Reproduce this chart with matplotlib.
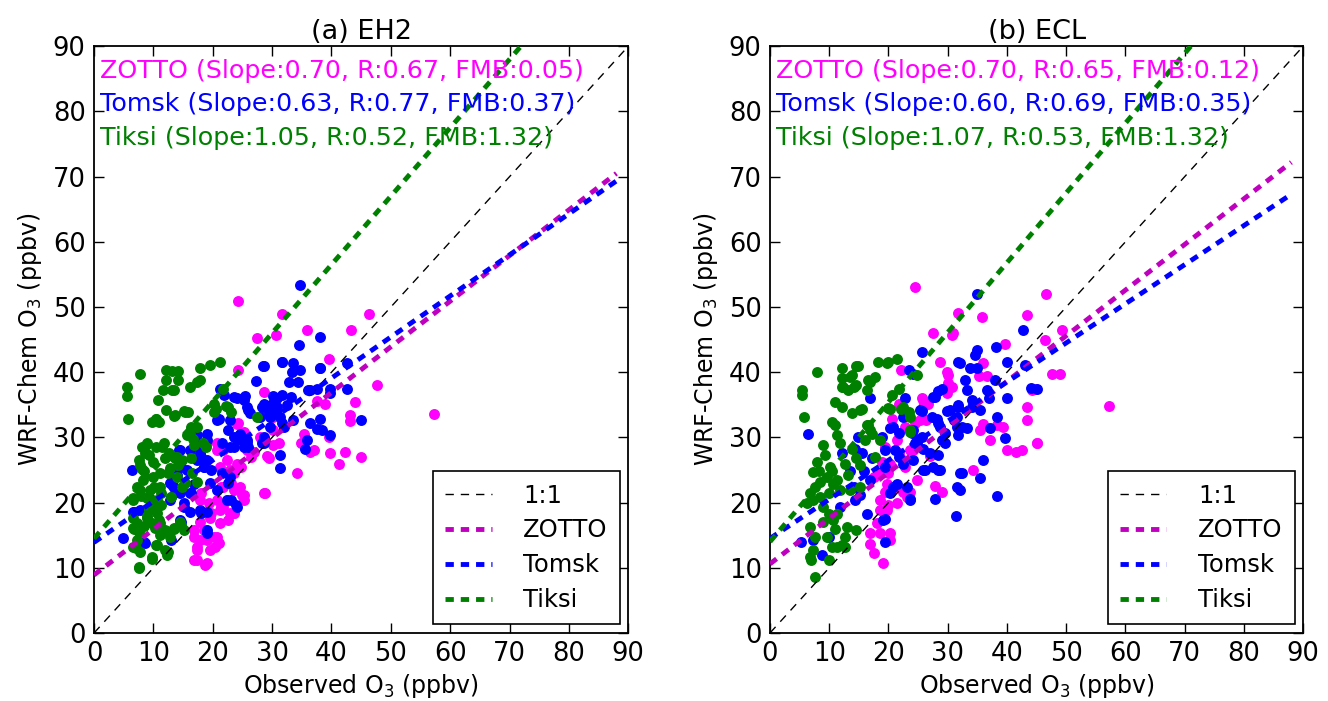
import numpy as np
import matplotlib
matplotlib.use("Agg")
import matplotlib.pyplot as plt

plt.rcParams['font.family'] = ['DejaVu Sans']
plt.rcParams['lines.scale_dashes'] = False

# ---- panel (a) EH2 : observed / modelled O3 (ppbv) ----
eh2_zotto = [
    (24.3, 51.0), (31.6, 48.9), (27.4, 45.2), (30.7, 45.7), (24.3, 40.4), (28.6, 36.9), (24.1, 32.1),
    (21.8, 28.1), (20.7, 29.1), (29.1, 33.7), (30.2, 31.1), (29.4, 26.8), (22.9, 25.0), (21.2, 25.5),
    (19.0, 29.1), (20.7, 28.1), (22.4, 26.5), (24.1, 26.0), (25.7, 28.1), (29.1, 27.1), (30.2, 28.8),
    (28.6, 21.4), (25.2, 21.2), (23.5, 21.9), (21.8, 22.4), (20.7, 20.4), (21.8, 19.4), (22.9, 18.4),
    (21.3, 16.8), (19.6, 17.6), (17.9, 17.1), (16.8, 15.8), (17.9, 14.3), (20.7, 14.8), (19.0, 14.3),
    (17.3, 13.2), (19.6, 12.7), (20.4, 13.2), (16.8, 11.2), (18.7, 10.4), (21.3, 18.9), (19.3, 19.9),
    (17.9, 20.4), (35.8, 46.5), (43.3, 46.5), (46.4, 48.9), (39.6, 42.1), (47.7, 38.0), (44.0, 35.5),
    (37.5, 35.6), (38.9, 35.2), (43.2, 33.5), (43.2, 32.5), (57.2, 33.6), (39.5, 30.1), (35.3, 30.6),
    (35.3, 29.1), (37.0, 28.1), (39.8, 27.6), (42.3, 27.8), (44.9, 27.0), (41.2, 26.0), (34.2, 24.5),
    (28.8, 21.4), (26.9, 27.8), (27.9, 30.1), (24.2, 32.2), (25.3, 30.9), (26.4, 27.0), (24.7, 25.5),
    (25.0, 21.2), (23.6, 18.4), (22.5, 17.3), (21.4, 19.4), (19.7, 18.4), (18.5, 15.8), (20.2, 14.8),
    (16.9, 14.8), (17.4, 12.8), (17.4, 11.2), (19.1, 10.7), (21.1, 13.8), (23.0, 23.0), (21.4, 22.4),
    (18.0, 21.4), (29.4, 34.2), (30.2, 33.2), (31.1, 29.1), (34.8, 29.1), (36.4, 27.8), (23.5, 24.5),
    (24.6, 22.4), (22.4, 20.4), (25.2, 20.4), (23.5, 18.4),
]
eh2_tomsk = [
    (28.4, 40.9), (31.6, 41.5), (27.3, 38.7), (21.2, 37.5), (21.9, 36.5), (24.1, 36.0), (25.5, 36.3),
    (25.7, 34.7), (26.3, 33.7), (28.6, 35.2), (30.2, 36.3), (31.6, 36.5), (30.8, 34.2), (29.7, 33.2),
    (22.9, 32.7), (20.7, 32.7), (24.6, 30.6), (25.7, 29.6), (23.5, 30.1), (25.2, 28.6), (28.6, 29.1),
    (31.3, 27.3), (31.3, 25.3), (17.3, 30.4), (19.0, 30.6), (14.5, 28.1), (6.4, 25.0), (17.9, 27.6),
    (19.0, 26.5), (18.5, 25.4), (4.9, 14.5), (8.6, 13.8), (16.2, 28.1), (17.9, 28.8), (17.3, 26.5),
    (15.6, 25.0), (13.9, 24.2), (12.8, 23.0), (14.5, 21.4), (16.2, 21.4), (15.1, 19.9), (16.2, 18.6),
    (17.9, 18.9), (19.0, 18.6), (19.0, 15.8), (20.7, 21.9), (21.5, 24.5), (22.9, 24.0), (19.6, 23.0),
    (22.4, 20.4), (24.1, 19.4), (22.9, 28.6), (25.7, 29.3), (28.3, 29.1), (12.8, 20.4), (9.7, 20.4),
    (7.8, 18.9), (6.6, 18.6), (14.5, 17.3), (34.7, 53.4), (38.0, 45.4), (34.5, 44.2), (28.6, 41.0),
    (33.6, 41.4), (33.3, 40.1), (34.7, 40.3), (32.8, 38.5), (34.4, 38.5), (38.0, 40.7), (42.6, 41.4),
    (39.8, 37.5), (39.8, 36.8), (42.6, 37.5), (36.1, 37.2), (37.5, 37.5), (30.8, 36.0), (33.1, 36.2),
    (30.8, 34.7), (32.5, 34.9), (29.9, 35.2), (28.3, 34.7), (28.0, 33.2), (29.4, 33.9), (31.4, 33.2),
    (31.7, 32.2), (33.6, 32.7), (29.7, 31.6), (32.0, 31.6), (28.6, 30.1), (36.4, 32.2), (38.1, 32.9),
    (38.4, 31.1), (39.8, 30.4), (37.5, 31.3), (35.9, 29.6), (35.6, 28.3), (44.9, 32.7), (31.7, 41.6),
    (38.1, 40.6), (36.4, 37.3), (21.1, 32.9), (22.5, 31.1), (23.6, 36.2), (25.3, 35.7), (25.9, 34.2),
    (24.7, 29.6), (25.9, 28.6), (23.6, 28.6), (21.6, 29.1), (22.5, 23.0), (23.9, 19.6), (23.0, 20.4),
    (12.9, 24.5), (14.6, 25.5), (14.3, 28.1), (13.5, 22.4), (12.9, 20.9), (15.2, 19.4), (16.3, 21.4),
    (16.9, 22.9), (18.0, 27.0), (18.5, 25.5), (19.1, 29.6), (19.7, 25.0), (18.0, 18.4), (19.1, 15.3),
    (14.6, 17.1), (8.4, 14.0), (12.9, 14.2), (6.7, 18.6),
]
eh2_tiksi = [
    (7.8, 39.7), (5.5, 37.8), (5.5, 36.3), (5.8, 32.9), (12.1, 40.4), (13.1, 40.2), (14.2, 40.2),
    (12.1, 38.8), (14.2, 38.8), (13.1, 37.3), (11.7, 37.3), (16.2, 37.8), (17.9, 38.8), (17.9, 40.6),
    (19.6, 41.1), (21.2, 41.5), (10.8, 35.7), (12.1, 34.2), (13.7, 33.4), (15.4, 33.9), (15.9, 33.9),
    (9.7, 32.4), (10.5, 32.9), (21.8, 37.5), (20.5, 34.3), (22.3, 34.8), (16.2, 30.6), (17.3, 31.6),
    (8.1, 28.6), (8.6, 27.6), (10.5, 28.6), (11.4, 28.6), (18.8, 28.6), (16.6, 29.8), (7.5, 26.6),
    (8.1, 25.1), (14.8, 26.6), (14.0, 27.0), (12.6, 27.6), (27.4, 33.2), (8.9, 29.1), (9.2, 27.3),
    (7.8, 25.8), (10.0, 26.3), (12.0, 26.8), (13.7, 26.8), (14.2, 25.8), (12.8, 25.3), (11.1, 24.5),
    (10.0, 24.0), (8.3, 23.5), (7.8, 21.9), (9.4, 21.9), (11.1, 22.4), (6.6, 20.7), (8.9, 20.7),
    (10.6, 20.4), (10.0, 19.4), (9.2, 18.9), (10.6, 18.4), (8.9, 17.6), (9.7, 16.8), (11.1, 16.8),
    (10.3, 16.1), (12.0, 15.8), (13.4, 16.1), (15.1, 15.8), (14.5, 17.1), (12.8, 14.8), (11.1, 15.0),
    (6.6, 17.6), (6.6, 16.1), (7.5, 15.5), (7.2, 14.3), (6.6, 13.2), (7.8, 12.5), (9.7, 11.7),
    (7.5, 10.2), (12.3, 12.0), (17.3, 23.2), (16.5, 24.5), (13.9, 24.0), (15.3, 23.0), (12.0, 12.7),
    (10.6, 13.5), (13.5, 37.3), (17.4, 38.5), (10.4, 32.9), (11.0, 32.4), (13.5, 33.3), (15.2, 34.0),
    (20.2, 35.2), (20.2, 33.9), (22.5, 34.7), (23.0, 33.9), (16.3, 31.6), (15.7, 30.4), (16.9, 28.8),
    (18.3, 29.1), (8.7, 28.8), (11.8, 29.1), (13.5, 27.0), (16.3, 26.8), (8.4, 24.8), (12.4, 24.5),
    (7.3, 22.4), (10.1, 22.4), (11.2, 21.4), (9.6, 20.4), (11.2, 19.6), (12.9, 20.9), (14.9, 22.4),
    (6.5, 20.4), (7.9, 21.0), (9.0, 17.9), (11.0, 17.4), (7.3, 16.9), (6.7, 15.9), (8.4, 16.4),
    (12.1, 15.6), (13.5, 15.9), (14.6, 16.6), (10.4, 13.5), (12.4, 12.5), (7.0, 13.0), (9.8, 11.4),
    (7.6, 9.9),
]

# ---- panel (b) ECL ----
ecl_zotto = [
    (24.5, 53.1), (31.8, 49.1), (27.6, 46.0), (30.7, 45.7), (28.7, 41.6), (22.2, 40.4), (30.1, 39.6),
    (30.7, 37.8), (29.8, 36.8), (25.6, 36.0), (26.7, 35.2), (25.6, 32.9), (24.5, 32.2), (20.6, 32.9),
    (22.8, 31.6), (19.4, 28.6), (21.7, 27.6), (22.8, 25.5), (20.0, 24.5), (18.9, 26.3), (25.9, 35.7),
    (25.3, 32.7), (21.4, 29.6), (23.6, 28.1), (20.3, 26.0), (22.5, 26.5), (18.6, 24.5), (19.7, 22.9),
    (21.4, 22.4), (24.8, 23.5), (23.1, 20.9), (21.4, 19.9), (18.6, 18.9), (19.7, 18.9), (16.9, 15.3),
    (18.6, 15.3), (20.3, 15.3), (17.5, 12.2), (19.1, 10.7), (16.9, 13.7), (20.3, 14.3), (35.8, 48.5),
    (43.4, 48.8), (49.3, 46.5), (30.9, 46.0), (39.7, 44.4), (46.4, 44.9), (47.6, 39.8), (44.8, 37.5),
    (43.4, 34.7), (43.4, 32.7), (45.0, 29.1), (40.0, 28.1), (41.5, 27.8), (42.5, 28.1), (36.0, 32.1),
    (38.3, 31.9), (39.4, 31.6), (35.5, 31.1), (37.2, 29.6), (34.3, 25.0), (29.0, 21.7), (36.0, 41.4),
    (36.6, 39.4), (35.2, 39.4), (29.8, 40.1), (30.1, 38.3), (25.8, 34.7), (26.4, 32.7), (21.8, 35.2),
    (24.2, 28.1), (27.0, 27.1), (27.9, 22.5), (57.2, 34.8), (46.6, 52.0), (48.9, 39.7), (45.1, 29.1),
    (44.2, 37.2), (17.5, 23.9), (19.4, 21.6), (22.5, 21.6), (23.6, 21.6), (18.6, 20.4), (20.0, 19.6),
    (18.0, 16.9),
]
ecl_tomsk = [
    (25.6, 43.1), (31.8, 41.5), (23.4, 40.3), (24.2, 39.8), (6.5, 30.5), (16.9, 36.0), (22.8, 36.0),
    (28.4, 37.1), (27.9, 36.2), (25.6, 34.0), (27.3, 33.2), (29.8, 34.0), (31.8, 35.0), (31.5, 33.2),
    (32.4, 31.6), (28.4, 32.2), (29.6, 30.7), (23.9, 30.7), (25.6, 30.1), (21.7, 30.7), (20.3, 31.4),
    (19.4, 28.1), (18.9, 30.1), (14.9, 30.1), (14.4, 28.3), (12.1, 27.6), (15.5, 27.6), (17.2, 26.8),
    (21.1, 28.1), (24.5, 29.1), (25.9, 28.3), (28.4, 27.3), (29.6, 29.1), (32.4, 24.5), (28.4, 25.0),
    (26.2, 25.0), (13.5, 24.8), (14.1, 22.4), (14.4, 20.4), (15.8, 24.8), (16.9, 23.5), (16.3, 18.3),
    (15.2, 21.2), (19.1, 17.3), (19.4, 14.0), (8.7, 12.0), (5.3, 14.0), (7.3, 14.3), (9.9, 14.8),
    (11.8, 19.4), (19.4, 25.5), (20.3, 21.4), (21.4, 22.9), (23.6, 20.4), (23.1, 22.4), (22.5, 26.0),
    (23.9, 31.1), (24.8, 29.6), (25.9, 25.0), (42.7, 46.5), (38.2, 43.9), (34.9, 43.4), (34.6, 42.6),
    (40.0, 41.6), (32.0, 41.4), (33.8, 40.6), (34.9, 40.6), (32.9, 38.8), (33.2, 37.3), (34.1, 35.7),
    (34.1, 34.7), (36.6, 37.3), (38.0, 38.8), (36.9, 36.0), (40.0, 36.0), (38.3, 33.2), (39.7, 29.9),
    (37.2, 31.4), (35.5, 34.2), (31.8, 34.7), (30.4, 34.2), (31.0, 32.7), (31.5, 31.6), (31.8, 30.4),
    (33.2, 31.4), (29.0, 29.6), (28.7, 31.6), (28.2, 32.9), (27.6, 36.2), (29.0, 37.5), (25.3, 34.2),
    (24.2, 31.1), (24.8, 29.1), (27.0, 27.6), (27.6, 25.5), (28.7, 25.0), (32.1, 24.5), (35.5, 23.8),
    (38.3, 21.0), (36.0, 26.5), (31.5, 22.4), (32.1, 21.9), (27.9, 20.6), (31.4, 17.9), (24.2, 26.5),
    (21.8, 27.0), (20.8, 22.4), (19.4, 17.5), (23.6, 20.6), (22.5, 33.2), (20.8, 31.6), (45.0, 37.5),
    (43.1, 41.1), (44.0, 37.6), (34.9, 52.0),
]
ecl_tiksi = [
    (7.9, 40.1), (5.4, 37.2), (5.4, 36.5), (5.8, 33.2), (12.1, 40.6), (13.8, 39.6), (14.9, 40.9),
    (12.1, 39.1), (12.1, 37.8), (13.2, 37.3), (14.6, 38.0), (16.6, 38.8), (17.7, 39.3), (18.3, 41.6),
    (19.9, 41.5), (21.4, 42.0), (11.0, 35.5), (12.1, 34.7), (15.5, 34.4), (13.8, 33.7), (10.4, 32.4),
    (11.0, 31.9), (21.7, 37.5), (20.6, 36.5), (20.3, 34.4), (22.2, 34.4), (23.4, 33.9), (23.7, 33.2),
    (23.7, 30.9), (16.6, 31.9), (17.2, 30.6), (16.0, 29.6), (11.3, 30.4), (11.8, 29.1), (9.0, 28.8),
    (9.3, 27.3), (13.8, 28.3), (14.6, 26.8), (17.7, 27.0), (7.9, 26.3), (8.2, 24.8), (10.4, 24.8),
    (12.7, 26.0), (7.3, 24.7), (10.1, 25.5), (9.6, 24.0), (10.7, 22.9), (8.4, 23.2), (7.6, 22.4),
    (6.8, 21.4), (8.4, 20.9), (9.9, 21.4), (11.8, 21.9), (11.3, 23.5), (13.2, 24.2), (15.2, 25.8),
    (15.2, 22.4), (13.5, 21.9), (7.3, 20.4), (6.2, 19.9), (9.0, 19.4), (9.9, 18.3), (11.3, 18.3),
    (10.7, 17.3), (9.0, 17.1), (6.8, 16.3), (11.0, 16.0), (13.0, 16.3), (14.6, 15.8), (12.7, 14.8),
    (10.4, 13.2), (12.1, 13.5), (7.3, 12.7), (7.0, 11.2), (9.9, 11.2), (7.6, 8.6), (14.6, 40.9),
    (13.5, 39.3), (12.4, 37.8), (14.1, 37.8), (16.9, 38.5), (16.3, 37.3), (19.7, 41.4), (15.2, 34.2),
    (16.3, 31.9), (16.9, 31.1), (18.6, 29.6), (20.0, 34.5), (22.5, 34.7), (23.6, 31.1), (24.8, 39.6),
    (6.8, 11.7), (11.3, 13.2), (12.7, 13.2), (7.6, 14.7), (9.6, 14.7),
]

stations = ['ZOTTO', 'Tomsk', 'Tiksi']
point_colors = ['magenta', 'blue', 'green']
line_colors = ['m', 'b', 'g']

# regression lines: slope (from the labels) and intercept
eh2_slope = [0.70, 0.63, 1.05]
eh2_icept = [8.9, 13.9, 14.5]
eh2_r = [0.67, 0.77, 0.52]
eh2_fmb = [0.05, 0.37, 1.32]

ecl_slope = [0.70, 0.60, 1.07]
ecl_icept = [10.6, 14.5, 14.0]
ecl_r = [0.65, 0.69, 0.53]
ecl_fmb = [0.12, 0.35, 1.32]

panels = [
    ('(a) EH2', [eh2_zotto, eh2_tomsk, eh2_tiksi], eh2_slope, eh2_icept, eh2_r, eh2_fmb),
    ('(b) ECL', [ecl_zotto, ecl_tomsk, ecl_tiksi], ecl_slope, ecl_icept, ecl_r, ecl_fmb),
]

fig = plt.figure(figsize=(13.28, 7.01), dpi=100)
axes = [fig.add_axes([0.0708, 0.097, 0.4023, 0.837]),
        fig.add_axes([0.5798, 0.097, 0.4015, 0.837])]

xfit = np.array([0, 88])
for ax, (title, data, slopes, iceps, rs, fmbs) in zip(axes, panels):
    for pts, c in zip(data, point_colors):
        pts = np.array(pts)
        ax.scatter(pts[:, 0], pts[:, 1], s=62, c=c, linewidths=0, zorder=2)
    ax.plot([0, 90], [0, 90], color='k', lw=1, linestyle='--', dashes=(6, 5), label='1:1', zorder=3)
    for name, lc, m, b in zip(stations, line_colors, slopes, iceps):
        ax.plot(xfit, m * xfit + b, color=lc, lw=3.5, linestyle='--', dashes=(6, 5),
                label=name, zorder=3)
    for i, (name, c, m, r, f) in enumerate(zip(stations, point_colors, slopes, rs, fmbs)):
        ax.text(0.011, 0.958 - i * 0.057,
                f'{name} (Slope:{m:.2f}, R:{r:.2f}, FMB:{f:.2f})',
                color=c, fontsize=18.3, transform=ax.transAxes, va='center', ha='left')
    ax.set_xlim(0, 90)
    ax.set_ylim(0, 90)
    ax.set_xticks(np.arange(0, 91, 10))
    ax.set_yticks(np.arange(0, 91, 10))
    ax.tick_params(direction='in', top=True, right=True, length=7, width=1,
                   labelsize=18.5, pad=6)
    for sp in ax.spines.values():
        sp.set_linewidth(1.3)
    ax.set_title(title, fontsize=19.5, pad=5)
    ax.set_xlabel('Observed O$_3$ (ppbv)', fontsize=17, labelpad=3)
    ax.set_ylabel('WRF-Chem O$_3$ (ppbv)', fontsize=17, labelpad=6)
    leg = ax.legend(loc='lower right', fontsize=17.5, fancybox=False, framealpha=1,
                    edgecolor='k', handlelength=1.9, borderpad=0.5, labelspacing=0.45,
                    handletextpad=1.3, borderaxespad=0.35)
    leg.get_frame().set_linewidth(1.2)

fig.savefig('out.png', dpi=100)
